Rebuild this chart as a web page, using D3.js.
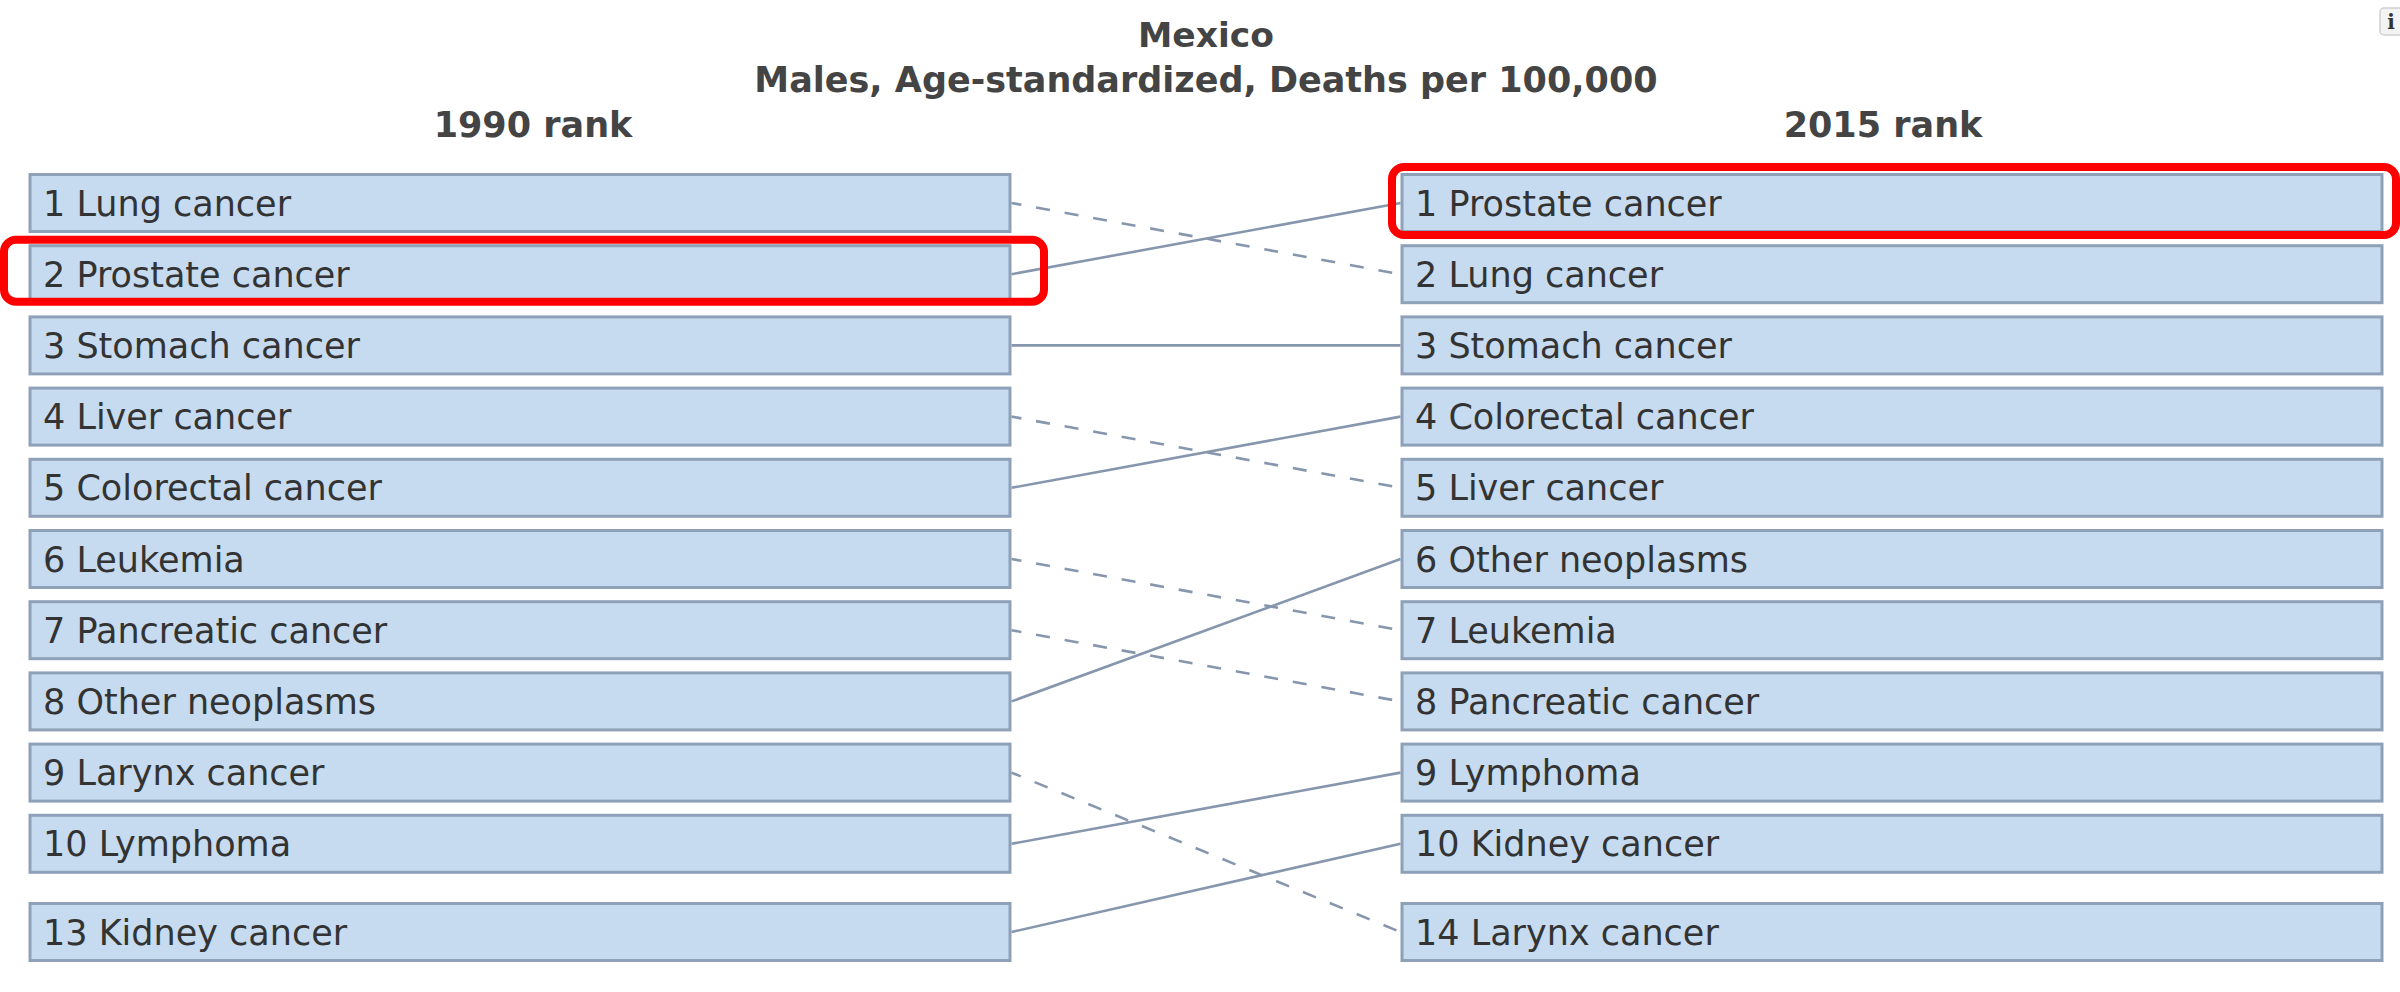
<!DOCTYPE html>
<html>
<head>
<meta charset="utf-8">
<script src="https://cdn.jsdelivr.net/npm/d3@7"></script>
<style>
  html, body { margin: 0; padding: 0; background: #ffffff; }
  svg { display: block; }
</style>
</head>
<body>
<svg id="chart" width="2400" height="992"></svg>
<script>
// ---- data ----
const titleLine1 = "Mexico";
const titleLine2 = "Males, Age-standardized, Deaths per 100,000";
const leftHeader = "1990 rank";
const rightHeader = "2015 rank";
const causes = ["Lung cancer", "Prostate cancer", "Stomach cancer", "Liver cancer", "Colorectal cancer",
                "Leukemia", "Pancreatic cancer", "Other neoplasms", "Larynx cancer", "Lymphoma", "Kidney cancer"];
const rank1990 = [1, 2, 3, 4, 5, 6, 7, 8, 9, 10, 13];
const rank2015 = [2, 1, 3, 5, 4, 7, 8, 6, 14, 9, 10];
const highlighted = ["Prostate cancer"];
const topN = 10;

// ---- layout ----
const svg = d3.select("#chart");
const fontFam = "'DejaVu Sans', Verdana, sans-serif";
const boxH = 57;
const extraGap = 17;
const leftX = 30, rightX = 1402, boxW = 980;

const slot = d3.scaleLinear().domain([0, topN - 1]).range([174.5, 174.5 + 9 * 71.2]);
function slotY(i) { return i < topN ? slot(i) : slot(i) + extraGap; }

const rows = causes.map((c, i) => ({ cause: c, r0: rank1990[i], r1: rank2015[i] }));
const leftOrder = rows.slice().sort((a, b) => a.r0 - b.r0);
const rightOrder = rows.slice().sort((a, b) => a.r1 - b.r1);
leftOrder.forEach((d, i) => d.y0 = slotY(i));
rightOrder.forEach((d, i) => d.y1 = slotY(i));

// title
svg.append("text").attr("x", 1206).attr("y", 47).attr("text-anchor", "middle")
  .attr("font-family", fontFam).attr("font-weight", "bold").attr("font-size", 34.5)
  .attr("fill", "#444").text(titleLine1);
svg.append("text").attr("x", 1206).attr("y", 92).attr("text-anchor", "middle")
  .attr("font-family", fontFam).attr("font-weight", "bold").attr("font-size", 35)
  .attr("fill", "#444").text(titleLine2);
svg.append("text").attr("x", 533).attr("y", 137).attr("text-anchor", "middle")
  .attr("font-family", fontFam).attr("font-weight", "bold").attr("font-size", 35)
  .attr("fill", "#444").text(leftHeader);
svg.append("text").attr("x", 1883).attr("y", 137).attr("text-anchor", "middle")
  .attr("font-family", fontFam).attr("font-weight", "bold").attr("font-size", 35)
  .attr("fill", "#444").text(rightHeader);

// connecting lines
svg.append("g").selectAll("line").data(rows).join("line")
  .attr("x1", leftX + boxW + 1.5)
  .attr("y1", d => d.y0 + boxH / 2)
  .attr("x2", rightX - 1.5)
  .attr("y2", d => d.y1 + boxH / 2)
  .attr("stroke", "#8596ad")
  .attr("stroke-width", 2.6)
  .attr("stroke-dasharray", d => d.r1 > d.r0 ? "14,15" : null)
  .attr("stroke-dashoffset", d => d.r1 > d.r0 ? 4 : null);

// boxes
function drawSide(data, x, yKey, rKey) {
  const g = svg.append("g").selectAll("g").data(data).join("g")
    .attr("transform", d => `translate(${x},${d[yKey]})`);
  g.append("rect").attr("width", boxW).attr("height", boxH)
    .attr("fill", "#c6dbef").attr("stroke", "#8ea1b8").attr("stroke-width", 3);
  g.append("text").attr("x", 13).attr("y", boxH / 2 + 12.6)
    .attr("font-family", fontFam).attr("font-size", 35).attr("fill", "#333")
    .text(d => `${d[rKey]} ${d.cause}`);
}
drawSide(leftOrder, leftX, "y0", "r0");
drawSide(rightOrder, rightX, "y1", "r1");

// highlight outlines
const hl = rows.filter(d => highlighted.includes(d.cause));
svg.append("g").selectAll("rect.hl0").data(hl).join("rect")
  .attr("x", 4).attr("y", d => d.y0 - 6).attr("width", 1040).attr("height", 62)
  .attr("rx", 12).attr("fill", "none").attr("stroke", "#ff0000").attr("stroke-width", 8);
svg.append("g").selectAll("rect.hl1").data(hl).join("rect")
  .attr("x", 1392).attr("y", d => d.y1 - 7.5).attr("width", 1004).attr("height", 68)
  .attr("rx", 12).attr("fill", "none").attr("stroke", "#ff0000").attr("stroke-width", 8);

// info button
svg.append("rect").attr("x", 2380).attr("y", 8).attr("width", 28).attr("height", 27).attr("rx", 4)
  .attr("fill", "#f3f3f3").attr("stroke", "#cfcfcf").attr("stroke-width", 1.5);
svg.append("text").attr("x", 2391).attr("y", 29).attr("text-anchor", "middle")
  .attr("font-family", "'DejaVu Serif', serif").attr("font-weight", "bold").attr("font-size", 20)
  .attr("fill", "#333").text("i");
</script>
</body>
</html>
